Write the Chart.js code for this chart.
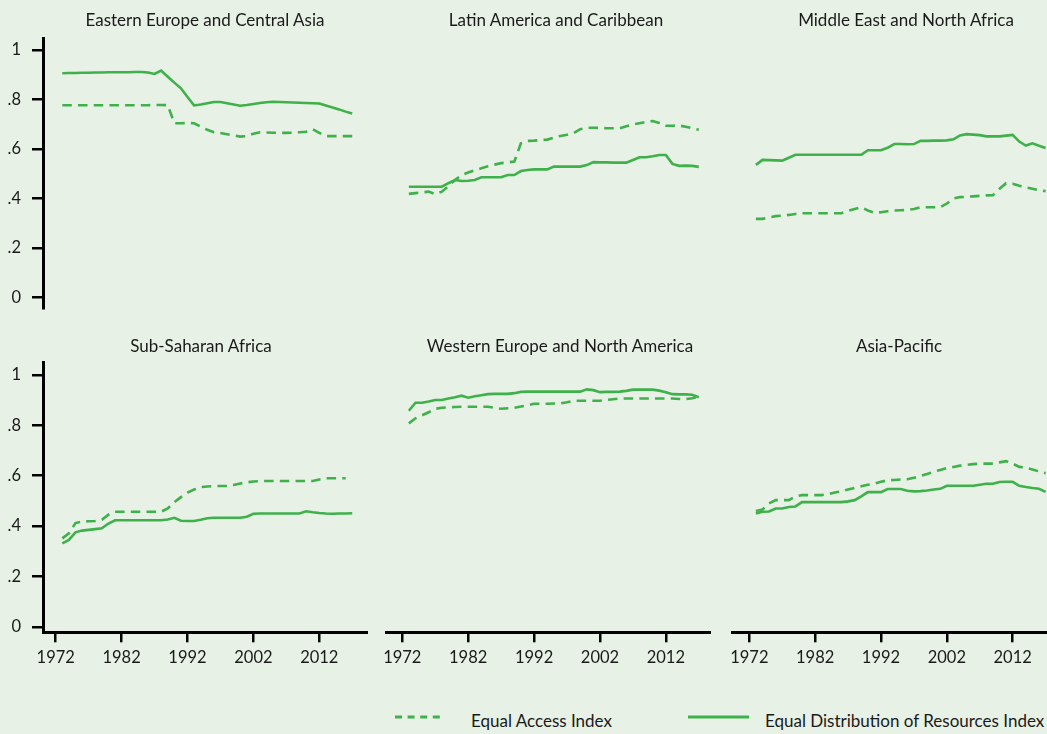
<!DOCTYPE html>
<html><head><meta charset="utf-8">
<script src="https://cdn.jsdelivr.net/npm/chart.js@4"></script>
<style>
html,body{margin:0;padding:0;background:#e7f1e5;width:1047px;height:734px;overflow:hidden;}
#wrap{position:relative;width:1047px;height:734px;overflow:hidden;font-family:Lato,"Open Sans",sans-serif;color:#1a1a1a;}
canvas{position:absolute;}
.title{position:absolute;width:340px;text-align:center;font-size:17px;line-height:20px;white-space:nowrap;}
.leg{position:absolute;font-size:17px;line-height:20.4px;white-space:nowrap;}
svg{position:absolute;}
</style></head><body>
<div id="wrap"></div>
<script>
// ---------- DATA ----------
const years = [1973,1974,1975,1976,1977,1978,1979,1980,1981,1982,1983,1984,1985,1986,1987,1988,1989,1990,1991,1992,1993,1994,1995,1996,1997,1998,1999,2000,2001,2002,2003,2004,2005,2006,2007,2008,2009,2010,2011,2012,2013,2014,2015,2016,2017];
const regions = ["Eastern Europe and Central Asia","Latin America and Caribbean","Middle East and North Africa","Sub-Saharan Africa","Western Europe and North America","Asia-Pacific"];
const seriesNames = ["Equal Access Index","Equal Distribution of Resources Index"];
const xTickYears = [1972,1982,1992,2002,2012];
const yTickValues = [0,0.2,0.4,0.6,0.8,1];
const yTickLabels = ["0",".2",".4",".6",".8","1"];

const eecaAccess = [.777,.777,.777,.777,.777,.777,.777,.777,.777,.777, .777,.777,.777,.777,.778,.778,.777,.704,.704,.705, .704,.690,.678,.668,.665,.660,.655,.650,.652,.662, .668,.667,.666,.665,.665,.666,.668,.670,.680,.665, .652,.652,.652,.652,.652];
const eecaDistribution = [.906,.907,.907,.908,.908,.909,.909,.910,.910,.910, .910,.911,.911,.909,.903,.917,.892,.868,.845,.810, .776,.780,.785,.790,.790,.785,.780,.775,.778,.782, .786,.789,.791,.790,.789,.788,.787,.786,.785,.784, .776,.768,.760,.751,.743];

const lacAccess = [.419,.422,.425,.428,.418,.428,.450,.475,.495,.505, .514,.522,.530,.537,.543,.546,.549,.623,.633,.634, .636,.638,.646,.653,.658,.664,.680,.686,.686,.685, .684,.684,.684,.692,.699,.704,.709,.713,.705,.694, .694,.695,.690,.684,.678];
const lacDistribution = [.448,.448,.448,.448,.448,.448,.462,.475,.471,.472, .475,.486,.486,.486,.486,.495,.495,.511,.515,.518, .518,.518,.529,.529,.529,.529,.529,.535,.547,.546, .546,.545,.545,.545,.556,.567,.567,.571,.576,.576, .540,.532,.533,.532,.528];

const menaAccess = [.318,.318,.324,.329,.331,.334,.338,.341,.341,.341, .341,.341,.341,.341,.350,.358,.365,.352,.343,.345, .349,.352,.353,.354,.358,.365,.365,.365,.365,.380, .400,.406,.407,.409,.411,.413,.414,.440,.462,.460, .452,.445,.440,.434,.430];
const menaDistribution = [.536,.556,.555,.554,.553,.565,.577,.577,.577,.577, .577,.577,.577,.577,.577,.577,.577,.595,.595,.595, .605,.620,.620,.619,.620,.633,.633,.634,.634,.635, .639,.655,.660,.658,.656,.651,.651,.651,.654,.657, .630,.614,.623,.613,.604];

const ssaAccess = [.351,.371,.412,.418,.419,.420,.425,.445,.457,.457, .457,.457,.457,.457,.457,.457,.470,.495,.515,.533, .545,.555,.557,.559,.559,.559,.563,.569,.574,.577, .579,.579,.579,.579,.579,.579,.579,.579,.579,.585, .590,.590,.590,.590,null];
const ssaDistribution = [.331,.345,.375,.382,.385,.388,.391,.410,.423,.423, .423,.423,.423,.423,.423,.423,.426,.433,.421,.420, .420,.425,.431,.433,.433,.433,.433,.433,.437,.449, .450,.450,.450,.450,.450,.450,.450,.459,.455,.452, .450,.449,.450,.450,.451];

const wenaAccess = [.808,.828,.840,.852,.866,.870,.872,.873,.874,.874, .874,.874,.874,.870,.866,.868,.870,.875,.880,.886, .886,.886,.887,.887,.892,.898,.898,.898,.898,.898, .901,.904,.907,.907,.907,.907,.907,.907,.907,.907, .907,.905,.904,.908,.913];
const wenaDistribution = [.858,.890,.890,.895,.901,.901,.907,.912,.918,.910, .916,.920,.924,.925,.925,.925,.928,.933,.934,.934, .934,.934,.934,.934,.934,.934,.934,.943,.940,.932, .933,.933,.934,.937,.942,.942,.942,.942,.938,.932, .924,.923,.923,.922,.912];

const apAccess = [.460,.466,.490,.503,.503,.503,.518,.523,.523,.523, .523,.527,.533,.538,.545,.552,.558,.564,.569,.576, .582,.583,.585,.586,.592,.599,.607,.616,.623,.630, .635,.640,.643,.646,.648,.648,.648,.653,.658,.648, .635,.632,.625,.617,.610];
const apDistribution = [.450,.457,.458,.470,.470,.476,.478,.495,.495,.495, .495,.495,.495,.495,.498,.503,.518,.535,.535,.535, .547,.547,.547,.540,.538,.539,.541,.545,.548,.560, .560,.560,.560,.560,.564,.568,.568,.575,.576,.576, .560,.555,.551,.548,.536];

// ---------- STYLE / LAYOUT ----------
const GREEN = 'rgb(62,177,74)';
const FONT = 'Lato, "Open Sans", sans-serif';
const TEXT = '#1a1a1a';
const wrap = document.getElementById('wrap');

const rows = [
  {canvasTop:28, height:282, padTop:10.3, padBottom:1.7, ymin:-0.043, ymax:1.047, xAxis:false, titleTop:10},
  {canvasTop:352, height:321, padTop:10.7, padBottom:0.7, ymin:-0.022, ymax:1.049, xAxis:true, titleTop:336}
];
const cols = [
  {canvasLeft:0, width:368, padLeft:0, yAxis:true, xmin:1970.07, xmax:2019.39},
  {canvasLeft:366, width:345, padLeft:20, yAxis:false, xmin:1969.53, xmax:2018.85},
  {canvasLeft:712, width:345, padLeft:20, yAxis:false, xmin:1969.37, xmax:2018.73}
];
const titleCenters = [205, 556, 906, 201, 560, 899];
const panelData = [
  [eecaAccess, eecaDistribution],[lacAccess, lacDistribution],[menaAccess, menaDistribution],
  [ssaAccess, ssaDistribution],[wenaAccess, wenaDistribution],[apAccess, apDistribution]
];

function pts(vals){ return years.map((y,i)=>({x:y, y:vals[i]})); }

for (let p=0;p<6;p++){
  const r = rows[Math.floor(p/3)], c = cols[p%3];
  const cv = document.createElement('canvas');
  cv.width = c.width; cv.height = r.height;
  cv.style.left = c.canvasLeft+'px'; cv.style.top = r.canvasTop+'px';
  cv.style.width = c.width+'px'; cv.style.height = r.height+'px';
  wrap.appendChild(cv);

  const t = document.createElement('div');
  t.className='title'; t.textContent = regions[p];
  t.style.left = (titleCenters[p]-170)+'px'; t.style.top = r.titleTop+'px';
  wrap.appendChild(t);

  new Chart(cv.getContext('2d'), {
    type:'line',
    data:{ datasets:[
      {label:seriesNames[0], data:pts(panelData[p][0]), borderColor:GREEN, borderWidth:2.6, borderDash:[9.5,6.2], pointRadius:0, tension:0, fill:false, spanGaps:false},
      {label:seriesNames[1], data:pts(panelData[p][1]), borderColor:GREEN, borderWidth:2.6, pointRadius:0, tension:0, fill:false, spanGaps:false}
    ]},
    options:{
      responsive:false, animation:false, devicePixelRatio:1,
      layout:{padding:{left:c.padLeft, right:0, top:r.padTop, bottom:r.padBottom}},
      plugins:{legend:{display:false}, tooltip:{enabled:false}, title:{display:false}},
      events:[],
      scales:{
        x:{ type:'linear', min:c.xmin, max:c.xmax, display:r.xAxis,
            afterFit:(s)=>{ s.paddingLeft=0; s.paddingRight=0; s.paddingTop=0; s.paddingBottom=0; if (r.xAxis) s.height = 40; },
            afterBuildTicks:(s)=>{ s.ticks = xTickYears.map(v=>({value:v})); },
            border:{display:true, color:'#000', width:3},
            grid:{display:true, drawOnChartArea:false, drawTicks:true, tickLength:10, color:'#000', lineWidth:2.5},
            ticks:{color:TEXT, font:{family:FONT, size:16.5}, padding:5, maxRotation:0, autoSkip:false, callback:(v)=>String(v)} },
        y:{ type:'linear', min:r.ymin, max:r.ymax, display:c.yAxis,
            afterFit:(s)=>{ s.paddingLeft=0; s.paddingRight=0; s.paddingTop=0; s.paddingBottom=0; if (c.yAxis) s.width = 43; },
            afterBuildTicks:(s)=>{ s.ticks = yTickValues.map(v=>({value:v})); },
            border:{display:true, color:'#000', width:3},
            grid:{display:true, drawOnChartArea:false, drawTicks:true, tickLength:11, color:'#000', lineWidth:2.5},
            ticks:{color:TEXT, font:{family:FONT, size:16.5}, padding:11, autoSkip:false,
                   callback:(v)=>{ const i = yTickValues.findIndex(t=>Math.abs(t-v)<1e-9); return i>=0 ? yTickLabels[i] : ''; }} }
      }
    }
  });
}

// ---------- LEGEND ----------
function legendLine(x, y, w, dash){
  const ns='http://www.w3.org/2000/svg';
  const s=document.createElementNS(ns,'svg');
  s.setAttribute('width',w); s.setAttribute('height',8);
  s.style.left=x+'px'; s.style.top=(y-4)+'px';
  const l=document.createElementNS(ns,'line');
  l.setAttribute('x1',0); l.setAttribute('x2',w); l.setAttribute('y1',4); l.setAttribute('y2',4);
  l.setAttribute('stroke',GREEN); l.setAttribute('stroke-width',2.8);
  if(dash) l.setAttribute('stroke-dasharray',dash);
  s.appendChild(l); wrap.appendChild(s);
}
function legendText(x, top, txt){
  const d=document.createElement('div'); d.className='leg'; d.textContent=txt;
  d.style.left=x+'px'; d.style.top=top+'px'; wrap.appendChild(d);
}
legendLine(395, 717, 46, '7 5.6');
legendText(471, 710.7, seriesNames[0]);
legendLine(688, 717, 61, null);
legendText(765, 710.7, seriesNames[1]);
</script>
</body></html>
